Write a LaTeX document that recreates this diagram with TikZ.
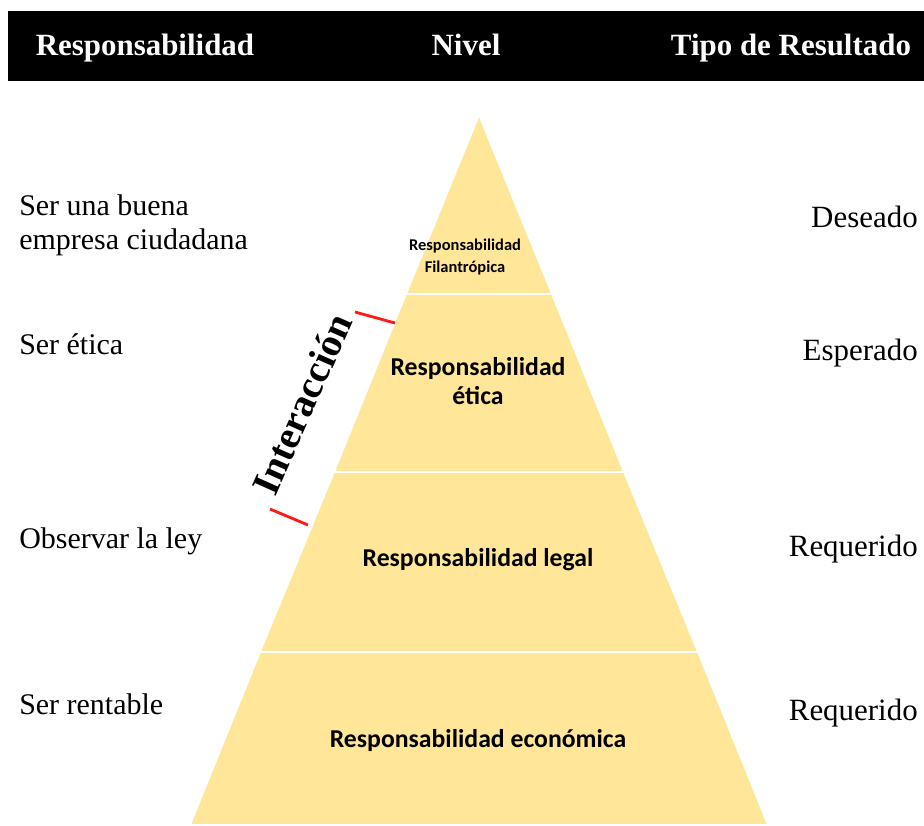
\documentclass[tikz,border=0pt]{standalone}
\usepackage{fontspec}
\setmainfont{Liberation Serif}
\newfontfamily\calibri{Carlito}
\usetikzlibrary{positioning}
\definecolor{piramide}{HTML}{FFE699}
\definecolor{marca}{HTML}{FF1A1A}

\begin{document}
\begin{tikzpicture}[x=0.025cm,y=-0.025cm,
    nivel/.style={fill=piramide,draw=white,line width=1.2pt,line join=round},
    txtnivel/.style={font=\calibri\bfseries\fontsize{18.3}{20}\selectfont,align=center},
    txtizq/.style={font=\fontsize{21.3}{24.2}\selectfont,anchor=west,align=left,inner sep=0pt},
    txtder/.style={font=\fontsize{22}{24.2}\selectfont,anchor=east,inner sep=0pt},
    cab/.style={font=\bfseries\fontsize{22}{24}\selectfont,text=white,anchor=base}]

    \useasboundingbox (0,0) rectangle (924,825);

    % cabecera
    \fill[black] (8,11) rectangle (924,81);
    \node[cab] (cresp) at (145,55) {Responsabilidad};
    \node[cab] (cniv) at (466,55) {Nivel};
    \node[cab] (ctipo) at (791,55) {Tipo de Resultado};

    % piramide
    \coordinate (ap) at (479,115);
    \coordinate (i1) at (406,294); \coordinate (d1) at (552,294);
    \coordinate (i2) at (334,472); \coordinate (d2) at (624,472);
    \coordinate (i3) at (260,652); \coordinate (d3) at (698,652);
    \coordinate (i4) at (190,825); \coordinate (d4) at (768,825);
    \draw[nivel] (ap)--(d1)--(i1)--cycle;
    \draw[nivel] (i1)--(d1)--(d2)--(i2)--cycle;
    \draw[nivel] (i2)--(d2)--(d3)--(i3)--cycle;
    \draw[nivel] (i3)--(d3)--(d4)--(i4)--cycle;

    \node[txtnivel,font=\calibri\bfseries\fontsize{11.7}{16}\selectfont] (filan) at (465,257) {Responsabilidad\\Filantrópica};
    \node[txtnivel] (etica) at (478,381) {Responsabilidad\\ética};
    \node[txtnivel] (legal) at (478,560) {Responsabilidad legal};
    \node[txtnivel] (econ) at (478,740) {Responsabilidad económica};

    % responsabilidad
    \node[txtizq] (buena) at (19,225) {Ser una buena\\empresa ciudadana};
    \node[txtizq] (seret) at (19,344) {Ser ética};
    \node[txtizq] (ley) at (19,541) {Observar la ley};
    \node[txtizq] (rent) at (19,704) {Ser rentable};

    % tipo de resultado
    \node[txtder] (des) at (918,217) {Deseado};
    \node[txtder] (esp) at (918,353) {Esperado};
    \node[txtder] (req1) at (918,549) {Requerido};
    \node[txtder] (req2) at (918,713) {Requerido};

    % interaccion
    \node[font=\bfseries\fontsize{28}{30}\selectfont,rotate=66] (inter) at (302,404) {Interacción};
    \coordinate (r1a) at (355,312); \coordinate (r1b) at (395,323);
    \coordinate (r2a) at (270,509); \coordinate (r2b) at (308,525);
    \draw[marca,line width=2pt] (r1a)--(r1b);
    \draw[marca,line width=2pt] (r2a)--(r2b);
\end{tikzpicture}
\end{document}
